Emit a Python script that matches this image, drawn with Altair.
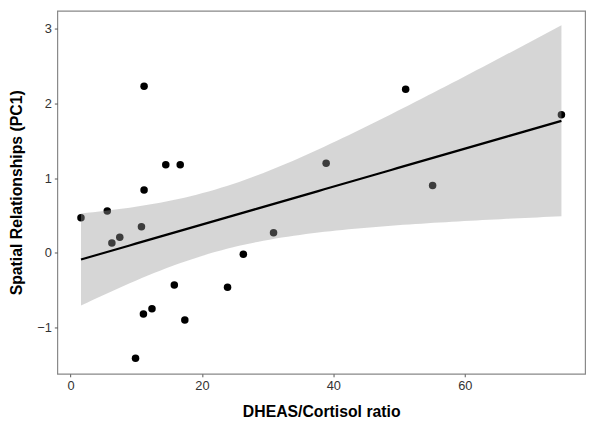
import altair as alt
import numpy as np
import pandas as pd

ratio = [11.2, 14.5, 16.7, 11.2, 5.6, 51.0, 74.7, 38.9, 55.1, 1.6, 10.8,
         7.5, 6.3, 30.9, 26.3, 15.8, 23.9, 12.4, 11.1, 17.4, 9.9]
pc1 = [2.23, 1.18, 1.18, 0.84, 0.56, 2.19, 1.85, 1.20, 0.90, 0.47, 0.35,
       0.21, 0.13, 0.27, -0.02, -0.43, -0.46, -0.75, -0.82, -0.90, -1.41]

x_ticks = [0, 20, 40, 60]
y_ticks = [-1, 0, 1, 2, 3]

pts = pd.DataFrame({"ratio": ratio, "pc1": pc1})

# linear fit with 95% confidence band (as geom_smooth(method="lm"))
xa = np.array(ratio)
ya = np.array(pc1)
n = len(xa)
b, a = np.polyfit(xa, ya, 1)
xs = np.linspace(xa.min(), xa.max(), 80)
fit = a + b * xs
resid = ya - (a + b * xa)
s = np.sqrt(np.sum(resid ** 2) / (n - 2))
sxx = np.sum((xa - xa.mean()) ** 2)
se = s * np.sqrt(1.0 / n + (xs - xa.mean()) ** 2 / sxx)
tq = 2.093
band = pd.DataFrame({"ratio": xs, "fit": fit, "lo": fit - tq * se, "hi": fit + tq * se})

xscale = alt.Scale(domain=[-2.0, 78.3], nice=False, zero=False)
yscale = alt.Scale(domain=[-1.62, 3.24], nice=False, zero=False)

xaxis = alt.Axis(title="DHEAS/Cortisol ratio", values=x_ticks, format="d", grid=False, domain=False,
                 tickSize=3, tickColor="#555555", labelColor="#333333", labelFontSize=13,
                 labelPadding=3, titleFontSize=16, titleFontWeight="bold", titleColor="#000000",
                 titlePadding=11, labelFont="Liberation Sans", titleFont="Liberation Sans")
yaxis = alt.Axis(title="Spatial Relationships (PC1)", values=y_ticks, format="d", grid=False, domain=False,
                 tickSize=3, tickColor="#555555", labelColor="#333333", labelFontSize=13,
                 labelPadding=3, titleFontSize=16, titleFontWeight="bold", titleColor="#000000",
                 titlePadding=12, labelFont="Liberation Sans", titleFont="Liberation Sans")

points = alt.Chart(pts).mark_circle(size=58, color="#000000", opacity=1).encode(
    x=alt.X("ratio:Q", scale=xscale, axis=xaxis),
    y=alt.Y("pc1:Q", scale=yscale, axis=yaxis),
)

area = alt.Chart(band).mark_area(color="#999999", opacity=0.4).encode(
    x=alt.X("ratio:Q", scale=xscale),
    y=alt.Y("lo:Q", scale=yscale),
    y2="hi:Q",
)

line = alt.Chart(band).mark_line(color="#000000", strokeWidth=2.3).encode(
    x=alt.X("ratio:Q", scale=xscale),
    y=alt.Y("fit:Q", scale=yscale),
)

chart = alt.layer(points, area, line).properties(
    width=535, height=368,
    autosize=alt.AutoSizeParams(type="none"),
    padding={"left": 50, "top": 0, "right": 7, "bottom": 48},
).configure_view(stroke="#888888", strokeWidth=1.2)

chart.save("out.html", embed_options={"renderer": "svg", "actions": False})
